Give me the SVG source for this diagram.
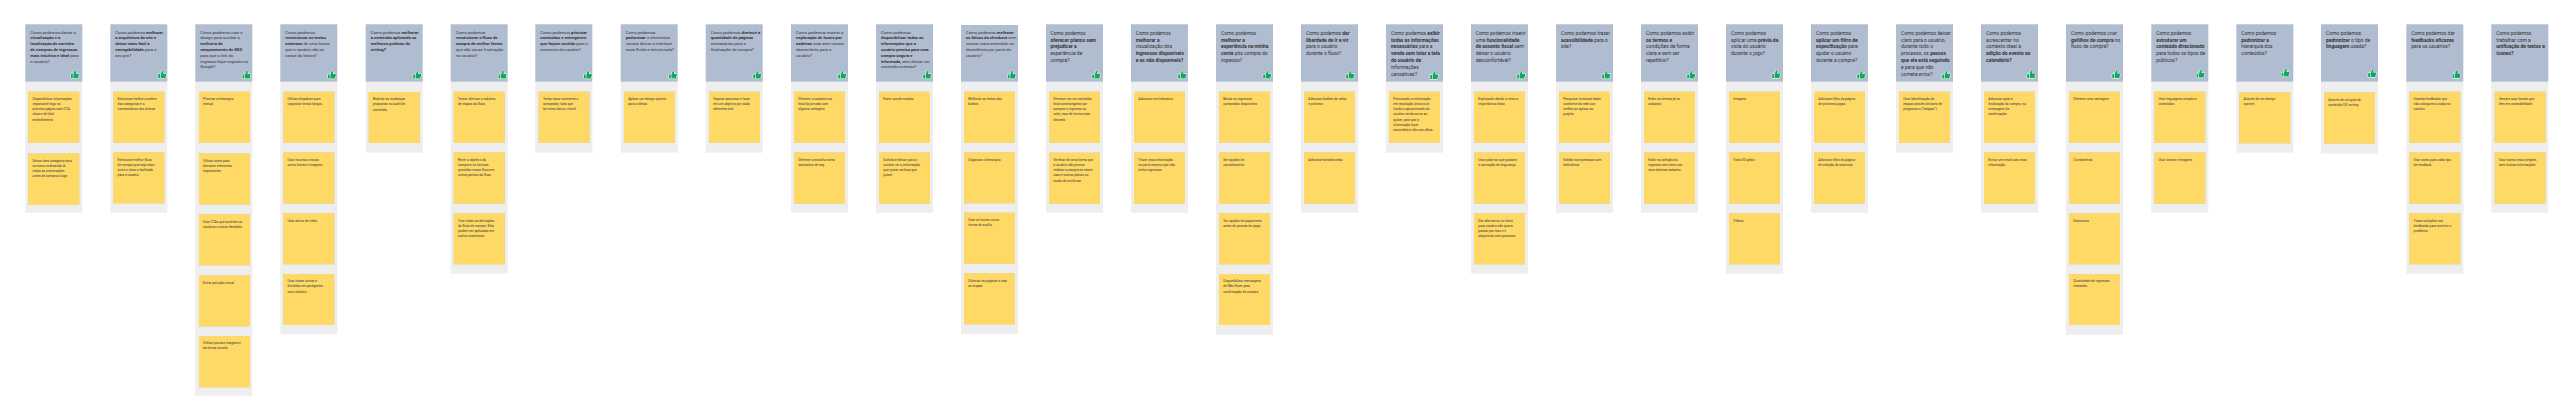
<svg xmlns="http://www.w3.org/2000/svg" xmlns:xlink="http://www.w3.org/1999/xlink" width="2574" height="420" viewBox="0 0 2574 420">
<style>
text{font-family:Roboto,"Liberation Sans",sans-serif;fill:#333}
.h{font-size:4.2px}
.H{font-size:4.95px}
.t{font-size:3.3px}
.b{font-weight:700}
.hd{fill:#b0bcd0}
.bg{fill:#eeeeee}
.s{fill:#ffd966;filter:drop-shadow(0 .5px .5px rgba(0,0,0,.18))}
.th{fill:#12a860;stroke:#fff;stroke-width:1;paint-order:stroke;stroke-linejoin:round}
</style>
<defs>
<path id="t" class="th" d="M-3.8-.6h1.9v4.2h-1.9zM-1.3-.6.2-4.2q1.4-.2 1.3 1.2L1.2-1H3.6q.7 0 .6.8L3.4 3q-.1.6-.7.6H-1.3z"/>
</defs>
<rect width="2574" height="420" fill="#fff"/>

<g id="col1" transform="translate(25.3 0)">
<rect class="bg" y="81.7" width="57" height="131"/><rect class="hd" y="24.3" width="57" height="57.4"/><use href="#t" x="49.4" y="74.7"/>
<text class="h"><tspan x="5" y="33.5">Como podemos deixar a</tspan><tspan x="5" dy="5.8" class="b">visualização e a</tspan><tspan x="5" dy="5.8" class="b">localização do carrinho</tspan><tspan x="5" dy="5.8" class="b">de compras de ingressos</tspan><tspan x="5" dy="5.8"><tspan class="b">mais intuitivo e ideal</tspan> para</tspan><tspan x="5" dy="5.8">o usuário?</tspan></text>
<rect class="s" x="3" y="91.7" width="51" height="51"/>
<text class="t"><tspan x="7.3" y="99.9">Disponibilizar informações</tspan><tspan x="7.3" dy="5.17">importante logo na</tspan><tspan x="7.3" dy="5.17">primeira página com CTA</tspan><tspan x="7.3" dy="5.17">clara e de fácil</tspan><tspan x="7.3" dy="5.17">entendimento</tspan></text>
<rect class="s" x="3" y="153.5" width="51" height="51.5"/>
<text class="t"><tspan x="7.3" y="161.7">Deixar área categoria clara</tspan><tspan x="7.3" dy="5.17">no menu ordenando lá</tspan><tspan x="7.3" dy="5.17">todas as informações</tspan><tspan x="7.3" dy="5.17">antes de compra a logo</tspan></text>
</g>

<g id="col2" transform="translate(110.3 0)">
<rect class="bg" y="81.7" width="57" height="131"/><rect class="hd" y="24.3" width="57" height="57.4"/><use href="#t" x="51.7" y="74.7"/>
<text class="h"><tspan x="5" y="33.5">Como podemos <tspan class="b">melhorar</tspan></tspan><tspan x="5" dy="5.8" class="b">a arquitetura do site e</tspan><tspan x="5" dy="5.8" class="b">deixar mais fácil a</tspan><tspan x="5" dy="5.8"><tspan class="b">navegabilidade</tspan> para o</tspan><tspan x="5" dy="5.8">seu pro?</tspan></text>
<rect class="s" x="3" y="91.7" width="51" height="51"/>
<text class="t"><tspan x="7.3" y="99.9">Estruturar/melhor a ordem</tspan><tspan x="7.3" dy="5.17">das categorias e a</tspan><tspan x="7.3" dy="5.17">nomenclatura dos termos</tspan></text>
<rect class="s" x="3" y="152.3" width="51" height="51"/>
<text class="t"><tspan x="7.3" y="160.5">Estruturar/melhor fluxo</tspan><tspan x="7.3" dy="5.17">de compra que seja mais</tspan><tspan x="7.3" dy="5.17">curto e claro e facilitado</tspan><tspan x="7.3" dy="5.17">para o usuário</tspan></text>
</g>

<g id="col3" transform="translate(195.3 0)">
<rect class="bg" y="81.7" width="57" height="314"/><rect class="hd" y="24.3" width="57" height="57.4"/><use href="#t" x="51" y="75"/>
<text class="h"><tspan x="5" y="33.5">Como podemos usar o</tspan><tspan x="5" dy="5.8">design para auxiliar a</tspan><tspan x="5" dy="5.8" class="b">melhoria do</tspan><tspan x="5" dy="5.8" class="b">ranqueamento de SEO</tspan><tspan x="5" dy="5.8">para que o link do</tspan><tspan x="5" dy="5.8">ingresso fique exposto no</tspan><tspan x="5" dy="5.8">Google?</tspan></text>
<rect class="s" x="3.7" y="91.7" width="51" height="51"/>
<text class="t"><tspan x="7.8" y="99.9">Priorizar a hierarquia</tspan><tspan x="7.8" dy="5.17">textual</tspan></text>
<rect class="s" x="3.7" y="153.5" width="51" height="51"/>
<text class="t"><tspan x="7.8" y="161.7">Utilizar cores para</tspan><tspan x="7.8" dy="5.17">destacar elementos</tspan><tspan x="7.8" dy="5.17">importantes</tspan></text>
<rect class="s" x="3.7" y="214.3" width="51" height="51"/>
<text class="t"><tspan x="7.8" y="222.5">Usar CTAs que auxiliem os</tspan><tspan x="7.8" dy="5.17">usuários a tomar decisões</tspan></text>
<rect class="s" x="3.7" y="275.3" width="51" height="51"/>
<text class="t"><tspan x="7.8" y="283.5">Evitar poluição visual</tspan></text>
<rect class="s" x="3.7" y="336" width="51" height="51.3"/>
<text class="t"><tspan x="7.8" y="344.2">Utilizar poucas imagens e</tspan><tspan x="7.8" dy="5.17">da forma correta</tspan></text>
</g>

<g id="col4" transform="translate(280.3 0)">
<rect class="bg" y="81.7" width="57" height="252.6"/><rect class="hd" y="24.3" width="57" height="57.4"/><use href="#t" x="51.4" y="75"/>
<text class="h"><tspan x="5" y="33.5">Como podemos</tspan><tspan x="5" dy="5.8" class="b">reestruturar os textos</tspan><tspan x="5" dy="5.8"><tspan class="b">extensos</tspan> de uma forma</tspan><tspan x="5" dy="5.8">que o usuário não se</tspan><tspan x="5" dy="5.8">canse da leitura?</tspan></text>
<rect class="s" x="3" y="91.7" width="51" height="51"/>
<text class="t"><tspan x="7.3" y="99.9">Utilizar dropdown para</tspan><tspan x="7.3" dy="5.17">organizar textos longos</tspan></text>
<rect class="s" x="3" y="152.5" width="51" height="51"/>
<text class="t"><tspan x="7.3" y="160.7">Usar recursos visuais</tspan><tspan x="7.3" dy="5.17">como ícones e imagens</tspan></text>
<rect class="s" x="3" y="213.3" width="51" height="51"/>
<text class="t"><tspan x="7.3" y="221.5">Usar ativos de vídeo</tspan></text>
<rect class="s" x="3" y="274" width="51" height="51"/>
<text class="t"><tspan x="7.3" y="282.2">Usar frases curtas e</tspan><tspan x="7.3" dy="5.17">divididas em parágrafos</tspan><tspan x="7.3" dy="5.17">com clusters</tspan></text>
</g>

<g id="col5" transform="translate(365.7 0)">
<rect class="bg" y="81.7" width="57" height="71"/><rect class="hd" y="24.3" width="57" height="57.4"/><use href="#t" x="51.3" y="75"/>
<text class="h"><tspan x="5" y="33.5">Como podemos <tspan class="b">melhorar</tspan></tspan><tspan x="5" dy="5.8" class="b">o conteúdo aplicando as</tspan><tspan x="5" dy="5.8" class="b">melhores práticas de</tspan><tspan x="5" dy="5.8" class="b">writing?</tspan></text>
<rect class="s" x="3" y="92" width="51" height="51"/>
<text class="t"><tspan x="7.3" y="100.2">Realizar as mudanças</tspan><tspan x="7.3" dy="5.17">propostas no audit de</tspan><tspan x="7.3" dy="5.17">conteúdo</tspan></text>
</g>

<g id="col6" transform="translate(450.7 0)">
<rect class="bg" y="81.7" width="57" height="192"/><rect class="hd" y="24.3" width="57" height="57.4"/><use href="#t" x="51.6" y="75"/>
<text class="h"><tspan x="5" y="33.5">Como podemos</tspan><tspan x="5" dy="5.8" class="b">reestruturar o fluxo de</tspan><tspan x="5" dy="5.8"><tspan class="b">compra da melhor forma</tspan></tspan><tspan x="5" dy="5.8">que não cause frustração</tspan><tspan x="5" dy="5.8">no usuário?</tspan></text>
<rect class="s" x="3" y="91.7" width="51" height="51"/>
<text class="t"><tspan x="7.3" y="99.9">Tentar eliminar o máximo</tspan><tspan x="7.3" dy="5.17">de etapas do fluxo</tspan></text>
<rect class="s" x="3" y="152.5" width="51" height="51"/>
<text class="t"><tspan x="7.3" y="160.7">Rever o objetivo da</tspan><tspan x="7.3" dy="5.17">compra e se há mais</tspan><tspan x="7.3" dy="5.17">questões nesse fluxo em</tspan><tspan x="7.3" dy="5.17">outros pontos do fluxo</tspan></text>
<rect class="s" x="3" y="213.3" width="51" height="51"/>
<text class="t"><tspan x="7.3" y="221.5">Tirar todas as distrações</tspan><tspan x="7.3" dy="5.17">do fluxo de compra. Elas</tspan><tspan x="7.3" dy="5.17">podem ser aplicadas em</tspan><tspan x="7.3" dy="5.17">outros momentos.</tspan></text>
</g>

<g id="col7" transform="translate(535.3 0)">
<rect class="bg" y="81.7" width="57" height="71"/><rect class="hd" y="24.3" width="57" height="57.4"/><use href="#t" x="52.4" y="75"/>
<text class="h"><tspan x="5" y="33.5">Como podemos <tspan class="b">priorizar</tspan></tspan><tspan x="5" dy="5.8" class="b">conteúdos e entregáveis</tspan><tspan x="5" dy="5.8"><tspan class="b">que façam sentido</tspan> para o</tspan><tspan x="5" dy="5.8">momento do usuário?</tspan></text>
<rect class="s" x="3.3" y="91.7" width="51" height="51"/>
<text class="t"><tspan x="7.6" y="99.9">Tentar focar conforme o</tspan><tspan x="7.6" dy="5.17">comprador, tudo que</tspan><tspan x="7.6" dy="5.17">for extra claro e visível</tspan></text>
</g>

<g id="col8" transform="translate(620.7 0)">
<rect class="bg" y="81.7" width="57" height="71"/><rect class="hd" y="24.3" width="57" height="57.4"/><use href="#t" x="52" y="75"/>
<text class="h"><tspan x="5" y="33.5">Como podemos</tspan><tspan x="5" dy="5.8"><tspan class="b">padronizar</tspan> o elementos</tspan><tspan x="5" dy="5.8">visuais deixar a interface</tspan><tspan x="5" dy="5.8">mais fluida e estruturada?</tspan></text>
<rect class="s" x="3.2" y="91.7" width="51" height="51"/>
<text class="t"><tspan x="7.5" y="99.9">Aplicar um design system</tspan><tspan x="7.5" dy="5.17">para o Ideias.</tspan></text>
</g>

<g id="col9" transform="translate(705.7 0)">
<rect class="bg" y="81.7" width="57" height="71"/><rect class="hd" y="24.3" width="57" height="57.4"/><use href="#t" x="51.3" y="75"/>
<text class="h"><tspan x="5" y="33.5">Como podemos <tspan class="b">diminuir a</tspan></tspan><tspan x="5" dy="5.8" class="b">quantidade de páginas</tspan><tspan x="5" dy="5.8">necessárias para a</tspan><tspan x="5" dy="5.8">finalização da compra?</tspan></text>
<rect class="s" x="3.3" y="91.7" width="51" height="51"/>
<text class="t"><tspan x="7.6" y="99.9">Separar assuntos e focar</tspan><tspan x="7.6" dy="5.17">em um objetivo por cada</tspan><tspan x="7.6" dy="5.17">elemento-site</tspan></text>
</g>

<g id="col10" transform="translate(791 0)">
<rect class="bg" y="81.7" width="57" height="131"/><rect class="hd" y="24.3" width="57" height="57.4"/><use href="#t" x="51" y="75"/>
<text class="h"><tspan x="5" y="33.5">Como podemos manter a</tspan><tspan x="5" dy="5.8" class="b">exploração de locais por</tspan><tspan x="5" dy="5.8"><tspan class="b">cadeiras</tspan> mas sem causar</tspan><tspan x="5" dy="5.8">desconforto para o</tspan><tspan x="5" dy="5.8">usuário?</tspan></text>
<rect class="s" x="3" y="91.7" width="51" height="51"/>
<text class="t"><tspan x="7.3" y="99.9">Oferecer o cadastro no</tspan><tspan x="7.3" dy="5.17">final da jornada com</tspan><tspan x="7.3" dy="5.17">alguma vantagem</tspan></text>
<rect class="s" x="3" y="152.5" width="51" height="51"/>
<text class="t"><tspan x="7.3" y="160.7">Oferecer a escolha como</tspan><tspan x="7.3" dy="5.17">assinatura de seg</tspan></text>
</g>

<g id="col11" transform="translate(876 0)">
<rect class="bg" y="81.7" width="57" height="131"/><rect class="hd" y="24.3" width="57" height="57.4"/><use href="#t" x="51" y="75"/>
<text class="h"><tspan x="5" y="33.5">Como podemos</tspan><tspan x="5" dy="5.8" class="b">disponibilizar todas as</tspan><tspan x="5" dy="5.8" class="b">informações que o</tspan><tspan x="5" dy="5.8" class="b">usuário precisa para uma</tspan><tspan x="5" dy="5.8" class="b">compra segura e</tspan><tspan x="5" dy="5.8"><tspan class="b">informada</tspan>, sem deixar um</tspan><tspan x="5" dy="5.8">conteúdo extenso?</tspan></text>
<rect class="s" x="3" y="91.7" width="51" height="51"/>
<text class="t"><tspan x="7.3" y="99.9">Fazer uso de modais</tspan></text>
<rect class="s" x="3" y="152.5" width="51" height="51"/>
<text class="t"><tspan x="7.3" y="160.7">Distribuir/deixar para o</tspan><tspan x="7.3" dy="5.17">usuário ver a informação</tspan><tspan x="7.3" dy="5.17">que quiser na hora que</tspan><tspan x="7.3" dy="5.17">quiser</tspan></text>
</g>

<g id="col12" transform="translate(961 0)">
<rect class="bg" y="81.7" width="57" height="252"/><rect class="hd" y="25" width="57" height="56.7"/><use href="#t" x="50.5" y="75"/>
<text class="h"><tspan x="5" y="33.5">Como podemos <tspan class="b">melhorar</tspan></tspan><tspan x="5" dy="5.8"><tspan class="b">os falsos do checkout</tspan> sem</tspan><tspan x="5" dy="5.8">causar mais entendido ou</tspan><tspan x="5" dy="5.8">desistência por parte do</tspan><tspan x="5" dy="5.8">usuário?</tspan></text>
<rect class="s" x="3" y="91.7" width="51" height="51"/>
<text class="t"><tspan x="7.3" y="99.9">Melhorar os textos dos</tspan><tspan x="7.3" dy="5.17">botões</tspan></text>
<rect class="s" x="3" y="152.3" width="51" height="51"/>
<text class="t"><tspan x="7.3" y="160.5">Organizar a hierarquia</tspan></text>
<rect class="s" x="3" y="212.7" width="51" height="51"/>
<text class="t"><tspan x="7.3" y="220.9">Usar os ícones como</tspan><tspan x="7.3" dy="5.17">forma de auxílio</tspan></text>
<rect class="s" x="3" y="273.3" width="51" height="51"/>
<text class="t"><tspan x="7.3" y="281.5">Otimizar as páginas e usar</tspan><tspan x="7.3" dy="5.17">as etapas</tspan></text>
</g>

<g id="col13" transform="translate(1046 0)">
<rect class="bg" y="81.7" width="57" height="131"/><rect class="hd" y="24.3" width="57" height="57.4"/><use href="#t" x="50" y="75"/>
<text class="H"><tspan x="4.5" y="34.7">Como podemos</tspan><tspan x="4.5" dy="6.8" class="b">oferecer planos sem</tspan><tspan x="4.5" dy="6.8" class="b">prejudicar a</tspan><tspan x="4.5" dy="6.8">experiência de</tspan><tspan x="4.5" dy="6.8">compra?</tspan></text>
<rect class="s" x="3" y="91.7" width="51" height="51"/>
<text class="t"><tspan x="7.3" y="99.9">Oferecer um um conteúdo</tspan><tspan x="7.3" dy="5.17">final constrangedor por</tspan><tspan x="7.3" dy="5.17">comprar o ingresso no</tspan><tspan x="7.3" dy="5.17">valor, mas de forma mais</tspan><tspan x="7.3" dy="5.17">discreta</tspan></text>
<rect class="s" x="3" y="152.7" width="51" height="51"/>
<text class="t"><tspan x="7.3" y="160.9">Verificar de uma forma que</tspan><tspan x="7.3" dy="5.17">o usuário não precise</tspan><tspan x="7.3" dy="5.17">realizar a compra se nesse</tspan><tspan x="7.3" dy="5.17">caso e outros planos no</tspan><tspan x="7.3" dy="5.17">modo de confirmar</tspan></text>
</g>

<g id="col14" transform="translate(1131 0)">
<rect class="bg" y="81.7" width="57" height="131"/><rect class="hd" y="24.3" width="57" height="57.4"/><use href="#t" x="51" y="75"/>
<text class="H"><tspan x="4.7" y="34.7">Como podemos</tspan><tspan x="4.7" dy="6.8" class="b">melhorar a</tspan><tspan x="4.7" dy="6.8">visualização dos</tspan><tspan x="4.7" dy="6.8" class="b">ingressos disponíveis</tspan><tspan x="4.7" dy="6.8" class="b">e os não disponíveis?</tspan></text>
<rect class="s" x="3" y="91.7" width="51" height="51"/>
<text class="t"><tspan x="7.3" y="99.9">Adicionar um Indicativo</tspan></text>
<rect class="s" x="3" y="152.5" width="51" height="51"/>
<text class="t"><tspan x="7.3" y="160.7">Trazer essa informação</tspan><tspan x="7.3" dy="5.17">na parte mesmo que não</tspan><tspan x="7.3" dy="5.17">tenha ingressos</tspan></text>
</g>

<g id="col15" transform="translate(1216 0)">
<rect class="bg" y="81.7" width="57" height="253"/><rect class="hd" y="24.3" width="57" height="57.4"/><use href="#t" x="51" y="75"/>
<text class="H"><tspan x="5" y="34.7">Como podemos</tspan><tspan x="5" dy="6.8" class="b">melhorar a</tspan><tspan x="5" dy="6.8"><tspan class="b">experiência na minha</tspan></tspan><tspan x="5" dy="6.8"><tspan class="b">conta</tspan> pós compra do</tspan><tspan x="5" dy="6.8">ingresso?</tspan></text>
<rect class="s" x="3" y="91.7" width="51" height="51"/>
<text class="t"><tspan x="7.3" y="99.9">Baixar os ingressos</tspan><tspan x="7.3" dy="5.17">comprados disponíveis</tspan></text>
<rect class="s" x="3" y="152.5" width="51" height="51"/>
<text class="t"><tspan x="7.3" y="160.7">Ser opções de</tspan><tspan x="7.3" dy="5.17">cancelamento</tspan></text>
<rect class="s" x="3" y="213.3" width="51" height="51"/>
<text class="t"><tspan x="7.3" y="221.5">Ser opções de pagamento</tspan><tspan x="7.3" dy="5.17">antes de pessoa ter paga</tspan></text>
<rect class="s" x="3" y="274" width="51" height="51"/>
<text class="t"><tspan x="7.3" y="282.2">Disponibilizar mensagens</tspan><tspan x="7.3" dy="5.17">de Não Fazer para</tspan><tspan x="7.3" dy="5.17">confirmação de compra</tspan></text>
</g>

<g id="col16" transform="translate(1301 0)">
<rect class="bg" y="81.7" width="57" height="131"/><rect class="hd" y="24.3" width="57" height="57.4"/><use href="#t" x="49" y="75"/>
<text class="H"><tspan x="5" y="34.7">Como podemos <tspan class="b">dar</tspan></tspan><tspan x="5" dy="6.8" class="b">liberdade de ir e vir</tspan><tspan x="5" dy="6.8">para o usuário</tspan><tspan x="5" dy="6.8">durante o fluxo?</tspan></text>
<rect class="s" x="3" y="91.7" width="51" height="51"/>
<text class="t"><tspan x="7.3" y="99.9">Adicionar botões de voltar</tspan><tspan x="7.3" dy="5.17">e próximo</tspan></text>
<rect class="s" x="3" y="152.5" width="51" height="51"/>
<text class="t"><tspan x="7.3" y="160.7">Adicionar breadcrumbs</tspan></text>
</g>

<g id="col17" transform="translate(1386 0)">
<rect class="bg" y="81.7" width="57" height="71"/><rect class="hd" y="24.3" width="57" height="57.4"/><use href="#t" x="48" y="75.5"/>
<text class="H"><tspan x="5" y="34.7">Como podemos <tspan class="b">exibir</tspan></tspan><tspan x="5" dy="6.8" class="b">todas as informações</tspan><tspan x="5" dy="6.8"><tspan class="b">necessárias</tspan> para a</tspan><tspan x="5" dy="6.8" class="b">venda sem lotar a tela</tspan><tspan x="5" dy="6.8" class="b">do usuário de</tspan><tspan x="5" dy="6.8">informações</tspan><tspan x="5" dy="6.8">cansativas?</tspan></text>
<rect class="s" x="3" y="91.7" width="51" height="51"/>
<text class="t"><tspan x="7.3" y="99.9">Priorizando a informação</tspan><tspan x="7.3" dy="5.17">em resolução única ou à</tspan><tspan x="7.3" dy="5.17">ilusão e aproximando do</tspan><tspan x="7.3" dy="5.17">usuário vendo-as-se ao</tspan><tspan x="7.3" dy="5.17">quiser, para que a</tspan><tspan x="7.3" dy="5.17">informação fique</tspan><tspan x="7.3" dy="5.17">escondida e não nos olhos.</tspan></text>
</g>

<g id="col18" transform="translate(1471 0)">
<rect class="bg" y="81.7" width="57" height="192"/><rect class="hd" y="24.3" width="57" height="57.4"/><use href="#t" x="50" y="75"/>
<text class="H"><tspan x="4.7" y="34.7">Como podemos inserir</tspan><tspan x="4.7" dy="6.8">uma <tspan class="b">funcionalidade</tspan></tspan><tspan x="4.7" dy="6.8"><tspan class="b">de assento fiscal</tspan> sem</tspan><tspan x="4.7" dy="6.8">deixar o usuário</tspan><tspan x="4.7" dy="6.8">desconfortável?</tspan></text>
<rect class="s" x="3" y="91.7" width="51" height="51"/>
<text class="t"><tspan x="7.3" y="99.9">Explicando desde o início a</tspan><tspan x="7.3" dy="5.17">importância disso</tspan></text>
<rect class="s" x="3" y="152.5" width="51" height="51"/>
<text class="t"><tspan x="7.3" y="160.7">Usar palavras que passem</tspan><tspan x="7.3" dy="5.17">a sensação de segurança</tspan></text>
<rect class="s" x="3" y="213.3" width="51" height="51"/>
<text class="t"><tspan x="7.3" y="221.5">Dar alternativa no início</tspan><tspan x="7.3" dy="5.17">para usuário não querer</tspan><tspan x="7.3" dy="5.17">passar por isso e ir</tspan><tspan x="7.3" dy="5.17">adquirindo sem processo</tspan></text>
</g>

<g id="col19" transform="translate(1556 0)">
<rect class="bg" y="81.7" width="57" height="131"/><rect class="hd" y="24.3" width="57" height="57.4"/><use href="#t" x="50" y="75"/>
<text class="H"><tspan x="5" y="34.7">Como podemos trazer</tspan><tspan x="5" dy="6.8"><tspan class="b">acessibilidade</tspan> para o</tspan><tspan x="5" dy="6.8">site?</tspan></text>
<rect class="s" x="3" y="91.7" width="51" height="51"/>
<text class="t"><tspan x="7.3" y="99.9">Pesquisar funcional dado</tspan><tspan x="7.3" dy="5.17">conforme do web con</tspan><tspan x="7.3" dy="5.17">melhor as aplicar ao</tspan><tspan x="7.3" dy="5.17">projeto</tspan></text>
<rect class="s" x="3" y="152.5" width="51" height="51"/>
<text class="t"><tspan x="7.3" y="160.7">Validar com pessoas com</tspan><tspan x="7.3" dy="5.17">deficiência</tspan></text>
</g>

<g id="col20" transform="translate(1641 0)">
<rect class="bg" y="81.7" width="57" height="131"/><rect class="hd" y="24.3" width="57" height="57.4"/><use href="#t" x="50" y="75"/>
<text class="H"><tspan x="5" y="34.7">Como podemos exibir</tspan><tspan x="5" dy="6.8"><tspan class="b">os termos e</tspan></tspan><tspan x="5" dy="6.8">condições de forma</tspan><tspan x="5" dy="6.8">clara e sem ser</tspan><tspan x="5" dy="6.8">repetitivo?</tspan></text>
<rect class="s" x="3" y="91.7" width="51" height="51"/>
<text class="t"><tspan x="7.3" y="99.9">Exibir os termos já no</tspan><tspan x="7.3" dy="5.17">cadastro</tspan></text>
<rect class="s" x="3" y="152.5" width="51" height="51"/>
<text class="t"><tspan x="7.3" y="160.7">Exibir na seleção do</tspan><tspan x="7.3" dy="5.17">ingresso sem ativo nos</tspan><tspan x="7.3" dy="5.17">seus direitos cadastro</tspan></text>
</g>

<g id="col21" transform="translate(1726 0)">
<rect class="bg" y="81.7" width="57" height="192"/><rect class="hd" y="24.3" width="57" height="57.4"/><use href="#t" x="50" y="74.5"/>
<text class="H"><tspan x="5" y="34.7">Como podemos</tspan><tspan x="5" dy="6.8">aplicar uma <tspan class="b">prévia da</tspan></tspan><tspan x="5" dy="6.8">vista do usuário</tspan><tspan x="5" dy="6.8">durante o jogo?</tspan></text>
<rect class="s" x="3" y="91.7" width="51" height="51"/>
<text class="t"><tspan x="7.3" y="99.9">Imagens</tspan></text>
<rect class="s" x="3" y="152.5" width="51" height="51"/>
<text class="t"><tspan x="7.3" y="160.7">Vista 3D grátis</tspan></text>
<rect class="s" x="3" y="213.3" width="51" height="51"/>
<text class="t"><tspan x="7.3" y="221.5">Vídeos</tspan></text>
</g>

<g id="col22" transform="translate(1811 0)">
<rect class="bg" y="81.7" width="57" height="131"/><rect class="hd" y="24.3" width="57" height="57.4"/><use href="#t" x="50" y="75"/>
<text class="H"><tspan x="5" y="34.7">Como podemos</tspan><tspan x="5" dy="6.8"><tspan class="b">aplicar um filtro de</tspan></tspan><tspan x="5" dy="6.8"><tspan class="b">especificação</tspan> para</tspan><tspan x="5" dy="6.8">ajudar o usuário</tspan><tspan x="5" dy="6.8">durante a compra?</tspan></text>
<rect class="s" x="3" y="91.7" width="51" height="51"/>
<text class="t"><tspan x="7.3" y="99.9">Adicionar filtro da página</tspan><tspan x="7.3" dy="5.17">de próximos jogos</tspan></text>
<rect class="s" x="3" y="152.5" width="51" height="51"/>
<text class="t"><tspan x="7.3" y="160.7">Adicionar filtro da página</tspan><tspan x="7.3" dy="5.17">de seleção de assentos</tspan></text>
</g>

<g id="col23" transform="translate(1896 0)">
<rect class="bg" y="81.7" width="57" height="71"/><rect class="hd" y="24.3" width="57" height="57.4"/><use href="#t" x="50" y="75"/>
<text class="H"><tspan x="5" y="34.7">Como podemos deixar</tspan><tspan x="5" dy="6.8">claro para o usuário,</tspan><tspan x="5" dy="6.8">durante todo o</tspan><tspan x="5" dy="6.8">processo, os <tspan class="b">passos</tspan></tspan><tspan x="5" dy="6.8" class="b">que ele está seguindo</tspan><tspan x="5" dy="6.8">e para que não</tspan><tspan x="5" dy="6.8">cometa erros?</tspan></text>
<rect class="s" x="3" y="91.7" width="51" height="51"/>
<text class="t"><tspan x="7.3" y="99.9">Usar Identificação de</tspan><tspan x="7.3" dy="5.17">etapas através de barra de</tspan><tspan x="7.3" dy="5.17">progresso e ("stepper")</tspan></text>
</g>

<g id="col24" transform="translate(1981 0)">
<rect class="bg" y="81.7" width="57" height="131"/><rect class="hd" y="24.3" width="57" height="57.4"/><use href="#t" x="50" y="74.5"/>
<text class="H"><tspan x="5" y="34.7">Como podemos</tspan><tspan x="5" dy="6.8">acrescentar no</tspan><tspan x="5" dy="6.8">contexto ideal a</tspan><tspan x="5" dy="6.8" class="b">adição do evento ao</tspan><tspan x="5" dy="6.8" class="b">calendário?</tspan></text>
<rect class="s" x="3" y="91.7" width="51" height="51"/>
<text class="t"><tspan x="7.3" y="99.9">Adicionar após a</tspan><tspan x="7.3" dy="5.17">finalização da compra, na</tspan><tspan x="7.3" dy="5.17">mensagem de</tspan><tspan x="7.3" dy="5.17">confirmação</tspan></text>
<rect class="s" x="3" y="152.5" width="51" height="51"/>
<text class="t"><tspan x="7.3" y="160.7">Enviar um email com essa</tspan><tspan x="7.3" dy="5.17">informação</tspan></text>
</g>

<g id="col25" transform="translate(2066 0)">
<rect class="bg" y="81.7" width="57" height="253"/><rect class="hd" y="24.3" width="57" height="57.4"/><use href="#t" x="50" y="74.5"/>
<text class="H"><tspan x="5" y="34.7">Como podemos criar</tspan><tspan x="5" dy="6.8"><tspan class="b">gatilhos de compra</tspan> no</tspan><tspan x="5" dy="6.8">fluxo de compra?</tspan></text>
<rect class="s" x="3" y="91.7" width="51" height="51"/>
<text class="t"><tspan x="7.3" y="99.9">Oferecer uma vantagem</tspan></text>
<rect class="s" x="3" y="152.5" width="51" height="51"/>
<text class="t"><tspan x="7.3" y="160.7">Cronômetros</tspan></text>
<rect class="s" x="3" y="213.3" width="51" height="51"/>
<text class="t"><tspan x="7.3" y="221.5">Descontos</tspan></text>
<rect class="s" x="3" y="274" width="51" height="51"/>
<text class="t"><tspan x="7.3" y="282.2">Quantidade de ingressos</tspan><tspan x="7.3" dy="5.17">restantes.</tspan></text>
</g>

<g id="col26" transform="translate(2151.3 0)">
<rect class="bg" y="81.7" width="57" height="131"/><rect class="hd" y="24.3" width="57" height="57.4"/><use href="#t" x="49" y="74"/>
<text class="H"><tspan x="5" y="34.7">Como podemos</tspan><tspan x="5" dy="6.8"><tspan class="b">estruturar um</tspan></tspan><tspan x="5" dy="6.8" class="b">conteúdo direcionado</tspan><tspan x="5" dy="6.8">para todos os tipos de</tspan><tspan x="5" dy="6.8">públicos?</tspan></text>
<rect class="s" x="3" y="91.7" width="51" height="51"/>
<text class="t"><tspan x="7.3" y="99.9">Usar linguagens simples e</tspan><tspan x="7.3" dy="5.17">conteúdos</tspan></text>
<rect class="s" x="3" y="152.5" width="51" height="51"/>
<text class="t"><tspan x="7.3" y="160.7">Usar ícones e imagens</tspan></text>
</g>

<g id="col27" transform="translate(2236.3 0)">
<rect class="bg" y="81.7" width="57" height="71"/><rect class="hd" y="24.3" width="57" height="57.4"/><use href="#t" x="49" y="73"/>
<text class="H"><tspan x="5" y="34.7">Como podemos</tspan><tspan x="5" dy="6.8" class="b">padronizar a</tspan><tspan x="5" dy="6.8">hierarquia dos</tspan><tspan x="5" dy="6.8">conteúdos?</tspan></text>
<rect class="s" x="3" y="92.3" width="51" height="51"/>
<text class="t"><tspan x="7.3" y="100.2">Através de um design</tspan><tspan x="7.3" dy="5.17">system</tspan></text>
</g>

<g id="col28" transform="translate(2321 0)">
<rect class="bg" y="81.7" width="57" height="71.8"/><rect class="hd" y="24.3" width="57" height="57.4"/><use href="#t" x="51" y="73.5"/>
<text class="H"><tspan x="5" y="34.7">Como podemos</tspan><tspan x="5" dy="6.8"><tspan class="b">padronizar</tspan> o tipo de</tspan><tspan x="5" dy="6.8"><tspan class="b">linguagem</tspan> usada?</tspan></text>
<rect class="s" x="3" y="92.5" width="51" height="51"/>
<text class="t"><tspan x="7.3" y="101">Através de um guia de</tspan><tspan x="7.3" dy="5.17">conteúdo/UX writing</tspan></text>
</g>

<g id="col29" transform="translate(2406.3 0)">
<rect class="bg" y="81.7" width="57" height="192"/><rect class="hd" y="24.3" width="57" height="57.4"/><use href="#t" x="50" y="74.5"/>
<text class="H"><tspan x="5" y="34.7">Como podemos dar</tspan><tspan x="5" dy="6.8" class="b">feedbacks eficazes</tspan><tspan x="5" dy="6.8">para os usuários?</tspan></text>
<rect class="s" x="3" y="91.7" width="51" height="51"/>
<text class="t"><tspan x="7.3" y="99.9">Usando feedbacks que</tspan><tspan x="7.3" dy="5.17">não coloquem a culpa no</tspan><tspan x="7.3" dy="5.17">usuário</tspan></text>
<rect class="s" x="3" y="152.5" width="51" height="51"/>
<text class="t"><tspan x="7.3" y="160.7">Usar cores para cada tipo</tspan><tspan x="7.3" dy="5.17">de feedback</tspan></text>
<rect class="s" x="3" y="213.3" width="51" height="51"/>
<text class="t"><tspan x="7.3" y="221.5">Trazer soluções nos</tspan><tspan x="7.3" dy="5.17">feedbacks para resolver o</tspan><tspan x="7.3" dy="5.17">problema</tspan></text>
</g>

<g id="col30" transform="translate(2491.3 0)">
<rect class="bg" y="81.7" width="57" height="131"/><rect class="hd" y="24.3" width="57" height="57.4"/>
<text class="H"><tspan x="5" y="34.7">Como podemos</tspan><tspan x="5" dy="6.8">trabalhar com a</tspan><tspan x="5" dy="6.8" class="b">unificação de textos e</tspan><tspan x="5" dy="6.8" class="b">ícones?</tspan></text>
<rect class="s" x="3.3" y="91.7" width="51" height="51"/>
<text class="t"><tspan x="7.6" y="99.9">Sempre usar ícones que</tspan><tspan x="7.6" dy="5.17">têm em acessibilidade</tspan></text>
<rect class="s" x="3.3" y="152.5" width="51" height="51"/>
<text class="t"><tspan x="7.6" y="160.7">Usar ícones mais simples</tspan><tspan x="7.6" dy="5.17">sem muitas informações</tspan></text>
</g>
</svg>
